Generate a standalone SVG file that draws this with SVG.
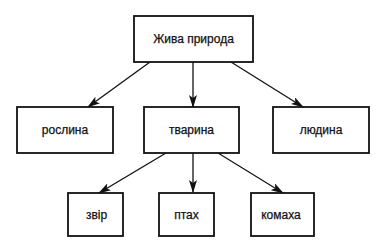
<svg xmlns="http://www.w3.org/2000/svg" width="384" height="246" viewBox="0 0 384 246">
<style>
.box{fill:#fff;stroke:#111;stroke-width:1.8}
.t{font-family:"Liberation Sans",Arial,sans-serif;font-size:12px;fill:#111;stroke:#111;stroke-width:0.25;text-anchor:middle;dominant-baseline:central}
.c{stroke:#111;stroke-width:1.3;fill:none;marker-end:url(#ah)}
</style>
<defs>
<marker id="ah" markerWidth="13" markerHeight="8" refX="12" refY="4" orient="auto" markerUnits="userSpaceOnUse">
<path d="M0,0 L13,4 L0,8 L3,4 Z" fill="#111"/>
</marker>
</defs>
<rect width="384" height="246" fill="#fff"/>
<g id="connectors">
<line class="c" x1="150" y1="62" x2="88" y2="107"/>
<line class="c" x1="193" y1="62" x2="193" y2="107"/>
<line class="c" x1="231" y1="62" x2="303" y2="107"/>
<line class="c" x1="166" y1="153" x2="99" y2="193"/>
<line class="c" x1="193" y1="153" x2="193" y2="192"/>
<line class="c" x1="218" y1="153" x2="283" y2="193"/>
</g>
<g id="zhyva"><rect class="box" x="134" y="16" width="119" height="46"/><text class="t" x="193.5" y="39">Жива природа</text></g>
<g id="roslyna"><rect class="box" x="17" y="107" width="96" height="46"/><text class="t" x="65" y="130">рослина</text></g>
<g id="tvaryna"><rect class="box" x="144" y="107" width="95" height="46"/><text class="t" x="191.5" y="130">тварина</text></g>
<g id="liudyna"><rect class="box" x="273" y="107" width="96" height="46"/><text class="t" x="321" y="130">людина</text></g>
<g id="zvir"><rect class="box" x="68" y="193" width="55" height="43"/><text class="t" x="96.5" y="214.5">звір</text></g>
<g id="ptakh"><rect class="box" x="159" y="193" width="55" height="43"/><text class="t" x="186.5" y="214.5">птах</text></g>
<g id="komakha"><rect class="box" x="251" y="193" width="63" height="43"/><text class="t" x="281" y="214.5">комаха</text></g>
</svg>
